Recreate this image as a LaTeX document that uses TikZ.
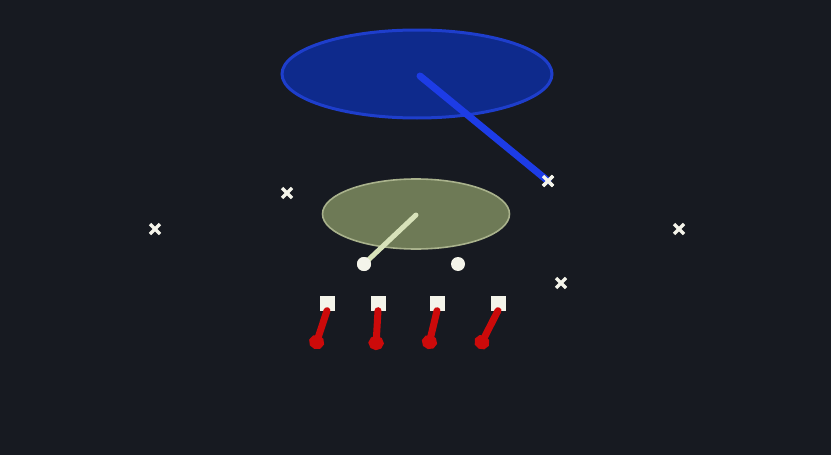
\documentclass[tikz,border=0pt]{standalone}
\usetikzlibrary{shapes.misc,shapes.geometric,arrows.meta}
\definecolor{bg}{HTML}{171A21}
\definecolor{blueF}{HTML}{0E2A8C}
\definecolor{blueD}{HTML}{1E3ECC}
\definecolor{blueL}{HTML}{1D3CE6}
\definecolor{oliveF}{HTML}{6E7A56}
\definecolor{oliveD}{HTML}{A9B28C}
\definecolor{paleL}{HTML}{D8E2BA}
\definecolor{redA}{HTML}{CC0A0A}
\definecolor{wht}{HTML}{F4F4EA}
\tikzset{
  xmark/.style={cross out, draw=wht, line width=3.5pt, minimum size=10pt, inner sep=0pt, outer sep=0pt},
  dotnode/.style={circle, fill=wht, minimum size=14pt, inner sep=0pt},
  sqnode/.style={rectangle, fill=wht, minimum size=15pt, inner sep=0pt},
  redarrow/.style={draw=redA, line width=7pt, line cap=round, -{Circle[length=14pt,width=15pt]}, shorten >=-5pt},
}
\begin{document}
\begin{tikzpicture}[x=1pt,y=-1pt]
\useasboundingbox (0,0) rectangle (831,455);
\fill[bg] (0,0) rectangle (831,455);
% blue ellipse
\node (be) [ellipse, fill=blueF, draw=blueD, line width=3pt, minimum width=270pt, minimum height=88pt, inner sep=0pt] at (417,74) {};
\coordinate (bc) at (420,76);
% olive ellipse
\node (oe) [ellipse, fill=oliveF, draw=oliveD, line width=1.6pt, minimum width=187pt, minimum height=70pt, inner sep=0pt] at (416,214) {};
\coordinate (oc) at (416,215);
% x marks
\node (x1) [xmark] at (287,193) {};
\node (x2) [xmark] at (155,229) {};
\node (x3) [xmark] at (548,181) {};
\node (x4) [xmark] at (679,229) {};
\node (x5) [xmark] at (561,283) {};
% circles
\node (c1) [dotnode] at (364,264) {};
\node (c2) [dotnode] at (458,264) {};
% connectors from ellipses
\draw[blueL, line width=7pt, line cap=round] (bc) -- (x3.center);
\node [xmark] at (548,181) {};
\draw[paleL, line width=5pt, line cap=round] (oc) -- (c1.center);
\node [dotnode] at (364,264) {};
% squares
\node (s1) [sqnode] at (327,303) {};
\node (s2) [sqnode] at (378,303) {};
\node (s3) [sqnode] at (437,303) {};
\node (s4) [sqnode] at (498,303) {};
\coordinate (e1) at (316,344);
\coordinate (e2) at (376,345);
\coordinate (e3) at (429,344);
\coordinate (e4) at (481,344);
\draw[redarrow] (s1.south) -- (e1);
\draw[redarrow] (s2.south) -- (e2);
\draw[redarrow] (s3.south) -- (e3);
\draw[redarrow] (s4.south) -- (e4);
\end{tikzpicture}
\end{document}
